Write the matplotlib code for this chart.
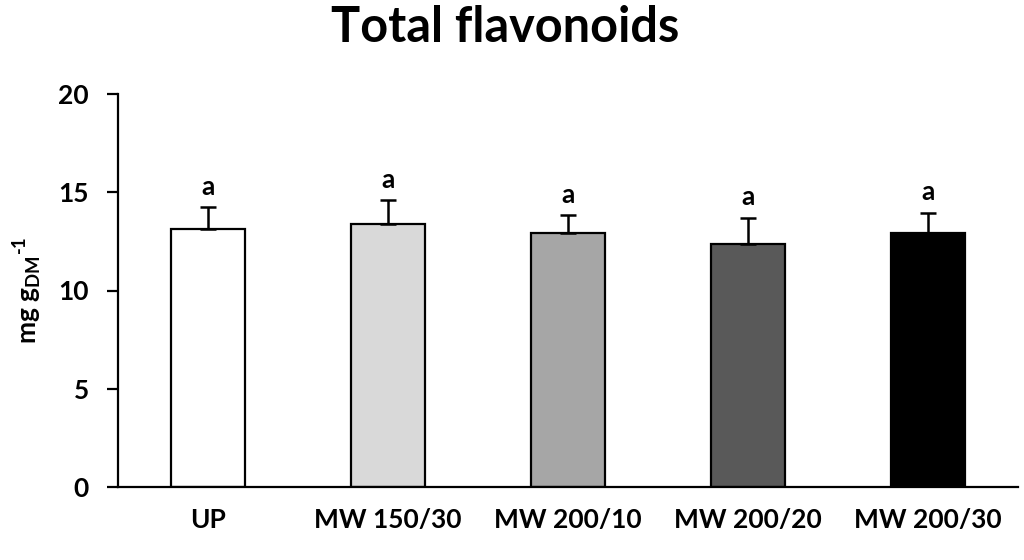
import matplotlib
matplotlib.use("Agg")
import matplotlib.pyplot as plt

categories = ["UP", "MW 150/30", "MW 200/10", "MW 200/20", "MW 200/30"]
values = [13.13, 13.38, 12.94, 12.37, 12.94]
errors = [1.12, 1.22, 0.90, 1.33, 1.02]
letters = ["a", "a", "a", "a", "a"]
colors = ["#ffffff", "#d9d9d9", "#a6a6a6", "#595959", "#000000"]
yticks = [0, 5, 10, 15, 20]

FONT = "Lato"
plt.rcParams["font.family"] = [FONT, "DejaVu Sans"]
plt.rcParams["font.weight"] = "bold"
plt.rcParams["mathtext.fontset"] = "custom"
plt.rcParams["mathtext.rm"] = FONT + ":bold"
plt.rcParams["mathtext.bf"] = FONT + ":bold"
plt.rcParams["mathtext.default"] = "bf"

fig = plt.figure(figsize=(10.24, 5.6), dpi=100)
ax = fig.add_axes([118/1024, 1-487/560, 900/1024, (487-94)/560])

x = list(range(len(categories)))
ax.bar(x, values, width=0.41, color=colors, edgecolor="black", linewidth=1.6, zorder=2)
ax.errorbar(x, values, yerr=[[0]*len(errors), errors], fmt="none", ecolor="black",
            elinewidth=1.8, capsize=6, capthick=1.8, zorder=3)
for xi, v, e, l in zip(x, values, errors, letters):
    ax.annotate(l, (xi, v + e), xytext=(0, 6), textcoords="offset points",
                ha="center", va="bottom", fontsize=19, fontweight="bold")

ax.set_xlim(-0.5, len(categories) - 0.5)
ax.set_ylim(0, 20)
ax.set_yticks(yticks)
ax.set_yticklabels([str(t) for t in yticks], fontsize=19, fontweight="bold")
ax.set_xticks(x)
ax.set_xticklabels(categories, fontsize=19, fontweight="bold")
ax.tick_params(axis="x", length=0, pad=15)
ax.tick_params(axis="y", length=8, width=1.6, direction="out", pad=13)
for s in ["top", "right"]:
    ax.spines[s].set_visible(False)
for s in ["left", "bottom"]:
    ax.spines[s].set_linewidth(1.6)

ax.set_ylabel(r"mg g$_{DM}$$^{\text{-1}}$", fontsize=19, fontweight="bold", labelpad=10)
fig.text(505/1024, 1-28/560, "Total flavonoids", ha="center", va="center",
         fontsize=35, fontweight="bold")

fig.savefig("out.png", dpi=100)
